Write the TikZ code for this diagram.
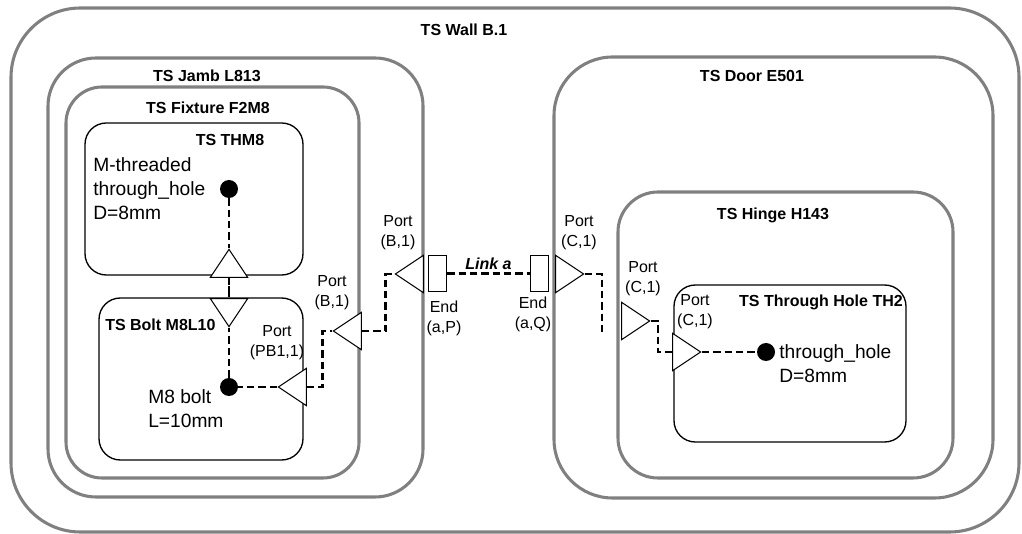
\documentclass[tikz,border=0pt]{standalone}
\usepackage{fontspec}
\setmainfont{Liberation Sans}
\usetikzlibrary{shapes.geometric}
\definecolor{framegray}{RGB}{128,128,128}
\begin{document}
\begin{tikzpicture}[x=0.75pt,y=0.75pt,yscale=-1,xscale=1,
    frame/.style={draw=framegray,line width=2.3pt},
    partbox/.style={draw=black,line width=1pt},
    title/.style={inner sep=0.75pt,font=\fontsize{12}{14}\selectfont\bfseries},
    portlabel/.style={inner sep=0.75pt,align=center,font=\fontsize{12}{15}\selectfont},
    featlabel/.style={inner sep=0.75pt,align=left,font=\fontsize{14.4}{18}\selectfont},
    porttri/.style={draw,fill=white,line width=0.8pt,isosceles triangle,isosceles triangle stretches,minimum width=28pt,minimum height=21pt,inner sep=0pt},
    endbox/.style={draw,fill=white,line width=0.8pt,minimum width=14pt,minimum height=27.5pt,inner sep=0pt},
    feature/.style={circle,fill=black,minimum size=13.5pt,inner sep=0pt},
    link/.style={line width=2.2pt,dash pattern=on 5.5pt off 3pt}]
        \useasboundingbox (0,0) rectangle (1022,534);
        \draw [frame, rounded corners=52pt] (11,8) rectangle (1019,532);
        \draw [frame, rounded corners=36pt] (48,58) rectangle (423,497);
        \draw [frame, rounded corners=27pt] (66,87) rectangle (359,478);
        \draw [partbox, rounded corners=16pt] (85,123) rectangle (303,275);
        \draw [partbox, rounded corners=16pt] (99,298) rectangle (303,460);
        \draw [frame, rounded corners=44pt] (554,57) rectangle (993,498);
        \draw [frame, rounded corners=30pt] (618,192) rectangle (953,478);
        \draw [partbox, rounded corners=16pt] (674,285) rectangle (906,442);
        \draw (464,30) node [title] (wallname) {TS Wall B.1};
        \draw (207,76) node [title] (jambname) {TS Jamb L813};
        \draw (208,108) node [title] (fixturename) {TS Fixture F2M8};
        \draw (230,140) node [title] (thmname) {TS THM8};
        \draw (104,325) node [title, anchor=west] (boltname) {TS Bolt M8L10};
        \draw (752,76) node [title] (doorname) {TS Door E501};
        \draw (773,215) node [title] (hingename) {TS Hinge H143};
        \draw (904,302) node [title, anchor=east] (thname) {TS Through Hole TH2};
        \node [feature] (thmdot) at (229,189) {};
        \node [feature] (boltdot) at (229,387) {};
        \node [feature] (thdot) at (766,352) {};
        \draw (92,189) node [featlabel, anchor=west] (thmtext) {M-threaded\\through\_hole\\D=8mm};
        \draw (147,409) node [featlabel, anchor=west] (bolttext) {M8 bolt\\L=10mm};
        \draw (778,364) node [featlabel, anchor=west] (thtext) {through\_hole\\D=8mm};
        \draw [link] (thmdot) -- (229,248);
        \draw [link] (boltdot) -- (229,328);
        \draw [link] (229,275) -- (229,302);
        \node [porttri, shape border rotate=90, anchor=apex] (thmport) at (229,248) {};
        \node [porttri, shape border rotate=270, anchor=apex] (boltin) at (229,328) {};
        \node [porttri, shape border rotate=180, anchor=apex] (boltport) at (277,387) {};
        \node [porttri, shape border rotate=180, anchor=apex] (fixport) at (332,331) {};
        \node [porttri, shape border rotate=180, anchor=apex] (jambport) at (394,274) {};
        \node [porttri, anchor=apex] (doorport) at (585,274) {};
        \node [porttri, anchor=apex] (hingeport) at (651,321) {};
        \node [porttri, anchor=apex] (thport) at (702,352) {};
        \node [endbox] (endP) at (437.5,273.5) {};
        \node [endbox] (endQ) at (539.5,273.5) {};
        \coordinate (doorend) at (607,331);
        \draw (277,343) node [portlabel] (boltportname) {Port\\(PB1,1)};
        \draw (332,293) node [portlabel] (fixportname) {Port\\(B,1)};
        \draw (398,233) node [portlabel] (jambportname) {Port\\(B,1)};
        \draw (579,233) node [portlabel] (doorportname) {Port\\(C,1)};
        \draw (643,279) node [portlabel] (hingeportname) {Port\\(C,1)};
        \draw (695,312) node [portlabel] (thportname) {Port\\(C,1)};
        \draw (444,318) node [portlabel] (endPname) {End\\(a,P)};
        \draw (533,314) node [portlabel] (endQname) {End\\(a,Q)};
        \draw [link] (thmport.lower side) -- (boltin.lower side);
        \draw [link] (boltport.apex) -- (boltdot);
        \draw [link] (boltport.lower side) -- +(16,0) |- (fixport.apex);
        \draw [link] (fixport.lower side) -- +(24,0) |- (jambport.apex);
        \draw [link] (endP.east) -- node [title, above=1pt] (linkname) {\itshape Link a} (endQ.west);
        \draw [link] (doorport.apex) -- +(17,0) |- (doorend);
        \draw [link] (hingeport.apex) -- +(7,0) |- (thport.lower side);
        \draw [link] (thport.apex) -- (thdot);
\end{tikzpicture}
\end{document}
